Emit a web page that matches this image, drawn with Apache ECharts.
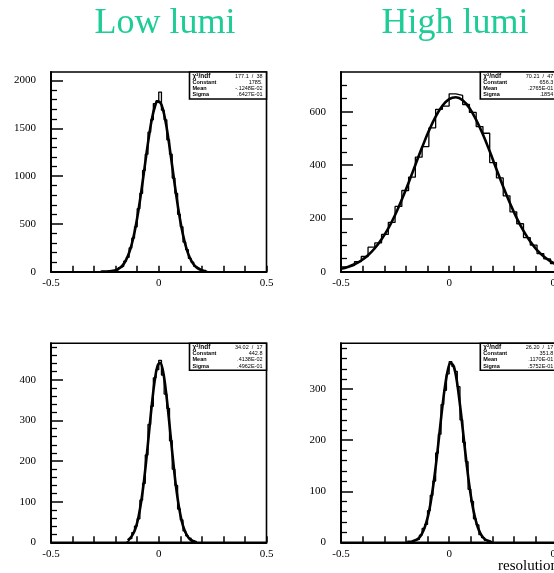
<!DOCTYPE html>
<html><head><meta charset="utf-8">
<script src="https://cdn.jsdelivr.net/npm/echarts@6/dist/echarts.min.js"></script>
<style>html,body{margin:0;padding:0;background:#fff}#c{width:554px;height:573px}</style>
</head><body><div id="c"></div>
<script>
// ---------- data ----------
const panelTitles = ['Low lumi', 'High lumi'];
const xLabelValues = [-0.5, 0, 0.5];
const xAxisTitle = 'resolution';

// Panel 1 (low lumi, top)
const p1BinStart = -0.275, p1BinWidth = 0.0125;
const p1Counts = [2,1,3,5,6,14,20,42,58,110,150,248,352,470,660,820,1060,1230,1460,1590,1760,1790,1880,1690,1590,1380,1230,980,820,600,470,310,230,140,100,55,38,18,10,5];
const p1FitStart = -0.26875, p1FitStep = 0.0125;
const p1Fit = [0,1,2,3,7,12,22,39,64,104,161,241,348,483,648,837,1040,1248,1440,1605,1721,1780,1773,1703,1576,1405,1208,1000,800,614,455,325,223,148,95,58,35,20,11,6];
const p1YMax = 2090;
const p1YMajor = [0,500,1000,1500,2000];
const p1YMinorStep = 100;
const p1Stats = [['\u03c7\u00b2/ndf','177.1  /  38'],['Constant','1785.'],['Mean','-.1248E-02'],['Sigma','.6427E-01']];

// Panel 2 (high lumi, top)
const p2BinStart = -0.5, p2BinWidth = 0.03125;
const p2Counts = [18,24,38,57,92,108,140,185,245,305,355,430,470,540,610,622,668,662,628,598,545,520,410,352,285,225,180,128,100,68,48,30];
const p2FitStart = -0.5, p2FitStep = 0.03125;
const p2Fit = [11,18,28,42,62,88,122,163,213,271,334,401,467,529,582,623,648,655,644,615,570,515,452,385,319,257,201,153,113,81,57,39,26];
const p2YMax = 750;
const p2YMajor = [0,200,400,600];
const p2YMinorStep = 50;
const p2Stats = [['\u03c7\u00b2/ndf','70.21  /  47'],['Constant','656.3'],['Mean','.2765E-01'],['Sigma','.1854']];

// Panel 3 (low lumi, bottom)
const p3BinStart = -0.15, p3BinWidth = 0.0125;
const p3Counts = [4,9,24,40,58,104,145,215,290,335,405,425,448,412,365,330,250,180,140,82,55,28,16,10,3,2];
const p3FitStart = -0.14375, p3FitStep = 0.0125;
const p3Fit = [5,11,21,37,63,101,150,211,278,343,398,433,442,424,381,322,255,190,132,87,53,31,17,8,4,2];
const p3YMax = 490;
const p3YMajor = [0,100,200,300,400];
const p3YMinorStep = 20;
const p3Stats = [['\u03c7\u00b2/ndf','34.02  /  17'],['Constant','442.8'],['Mean','.4138E-02'],['Sigma','.4962E-01']];

// Panel 4 (high lumi, bottom)
const p4BinStart = -0.2, p4BinWidth = 0.0125;
const p4Counts = [0,1,3,5,6,14,27,35,62,92,120,175,212,270,298,330,354,345,335,305,240,196,158,104,80,46,34,15,9,4,2,1];
const p4FitStart = -0.19375, p4FitStep = 0.0125;
const p4Fit = [1,1,2,4,7,13,23,38,59,89,126,170,218,266,307,337,351,347,327,291,247,199,152,110,76,50,31,18,10,5,3,1];
const p4YMax = 390;
const p4YMajor = [0,100,200,300];
const p4YMinorStep = 20;
const p4Stats = [['\u03c7\u00b2/ndf','26.20  /  17'],['Constant','351.8'],['Mean','.1170E-01'],['Sigma','.5752E-01']];

// ---------- layout ----------
const grids = [
  {left: 51, top: 72, width: 215.5, height: 199.7},
  {left: 341, top: 72, width: 216.3, height: 199.7},
  {left: 51, top: 343.3, width: 215.5, height: 199},
  {left: 341, top: 343.3, width: 216.3, height: 199}
];
const panels = [
  {bs: p1BinStart, bw: p1BinWidth, counts: p1Counts, fs: p1FitStart, fst: p1FitStep, fit: p1Fit, ymax: p1YMax, major: p1YMajor, minorStep: p1YMinorStep, stats: p1Stats},
  {bs: p2BinStart, bw: p2BinWidth, counts: p2Counts, fs: p2FitStart, fst: p2FitStep, fit: p2Fit, ymax: p2YMax, major: p2YMajor, minorStep: p2YMinorStep, stats: p2Stats},
  {bs: p3BinStart, bw: p3BinWidth, counts: p3Counts, fs: p3FitStart, fst: p3FitStep, fit: p3Fit, ymax: p3YMax, major: p3YMajor, minorStep: p3YMinorStep, stats: p3Stats},
  {bs: p4BinStart, bw: p4BinWidth, counts: p4Counts, fs: p4FitStart, fst: p4FitStep, fit: p4Fit, ymax: p4YMax, major: p4YMajor, minorStep: p4YMinorStep, stats: p4Stats}
];
const FONT = 'Liberation Serif';

function histPoints(p) {
  const pts = [[p.bs, 0]];
  p.counts.forEach((c, i) => pts.push([p.bs + i * p.bw, c]));
  pts.push([p.bs + p.counts.length * p.bw, 0]);
  return pts;
}
function fitPoints(p) {
  return p.fit.map((v, i) => [p.fs + i * p.fst, v]);
}
function minorTicks(p) {
  const out = [];
  for (let v = p.minorStep; v < p.ymax - 1e-6; v += p.minorStep) {
    if (p.major.indexOf(v) < 0) out.push(v);
  }
  return out;
}

const xAxes = [], yAxes = [], series = [], graphics = [];
panels.forEach((p, i) => {
  xAxes.push({
    gridIndex: i, type: 'value', min: -0.5, max: 0.5, interval: 0.1,
    axisLine: {onZero: false, lineStyle: {color: '#000', width: 2}},
    axisTick: {inside: true, length: 6, lineStyle: {color: '#000', width: 1.5}},
    axisLabel: {
      color: '#000', fontFamily: FONT, fontSize: 11, margin: 6,
      formatter: v => {
        const hit = xLabelValues.find(t => Math.abs(t - v) < 1e-6);
        return hit === undefined ? '' : String(hit);
      }
    },
    splitLine: {show: false}
  });
  yAxes.push({
    gridIndex: i, type: 'value', min: 0, max: p.ymax, position: 'left',
    axisLine: {show: true, onZero: false, lineStyle: {color: '#000', width: 2}},
    axisTick: {show: true, inside: true, length: 12, customValues: p.major, lineStyle: {color: '#000', width: 1.5}},
    axisLabel: {color: '#000', fontFamily: FONT, fontSize: 11, margin: 15, customValues: p.major, formatter: v => String(v)},
    splitLine: {show: false}
  });
  series.push({
    type: 'line', xAxisIndex: i, yAxisIndex: i, data: histPoints(p), step: 'end',
    symbol: 'none', lineStyle: {color: '#000', width: 1.3}, z: 3, animation: false
  });
  series.push({
    type: 'line', xAxisIndex: i, yAxisIndex: i, data: fitPoints(p), smooth: 0.4,
    symbol: 'none', lineStyle: {color: '#000', width: 2.6}, z: 4, animation: false
  });
  // stats box
  const g = grids[i];
  const bw = 77, bh = 27;
  const bx = g.left + g.width - bw, by = g.top;
  const children = [{type: 'rect', shape: {x: bx, y: by, width: bw, height: bh},
    style: {fill: '#fff', stroke: '#000', lineWidth: 1.6}}];
  p.stats.forEach((row, r) => {
    const ty = by + 4 + r * 6.3;
    children.push({type: 'text', x: bx + 3, y: ty, style: {text: row[0], fontFamily: 'Liberation Sans', fontSize: r === 0 ? 6.5 : 5.5, fontWeight: 'bold', fill: '#000', textVerticalAlign: 'middle'}});
    children.push({type: 'text', x: bx + bw - 4, y: ty, style: {text: row[1], fontFamily: 'Liberation Sans', fontSize: 5.5, fill: '#000', textAlign: 'right', textVerticalAlign: 'middle'}});
  });
  graphics.push({type: 'group', z: 100, children});
});
panels.forEach((p, i) => {
  yAxes.push({
    gridIndex: i, type: 'value', min: 0, max: p.ymax, position: 'left',
    axisLine: {show: false, onZero: false}, axisLabel: {show: false}, splitLine: {show: false},
    axisTick: {show: true, inside: true, length: 6, customValues: minorTicks(p), lineStyle: {color: '#000', width: 1.3}}
  });
});

graphics.push({type: 'text', x: 165, y: 24, style: {text: panelTitles[0], fontFamily: FONT, fontSize: 36, fill: '#1ecc96', textAlign: 'center', textVerticalAlign: 'middle'}});
graphics.push({type: 'text', x: 455, y: 24, style: {text: panelTitles[1], fontFamily: FONT, fontSize: 36, fill: '#1ecc96', textAlign: 'center', textVerticalAlign: 'middle'}});
graphics.push({type: 'text', x: 498, y: 566, style: {text: xAxisTitle, fontFamily: FONT, fontSize: 15, fill: '#000', textVerticalAlign: 'middle'}});

const chart = echarts.init(document.getElementById('c'), null, {renderer: 'canvas', width: 554, height: 573});
chart.setOption({
  backgroundColor: '#fff',
  animation: false,
  grid: grids.map(g => Object.assign({show: true, borderColor: '#000', borderWidth: 1.6, backgroundColor: 'transparent', containLabel: false, outerBoundsMode: 'none'}, g)),
  xAxis: xAxes,
  yAxis: yAxes,
  series: series,
  graphic: graphics
});
</script>
</body></html>
